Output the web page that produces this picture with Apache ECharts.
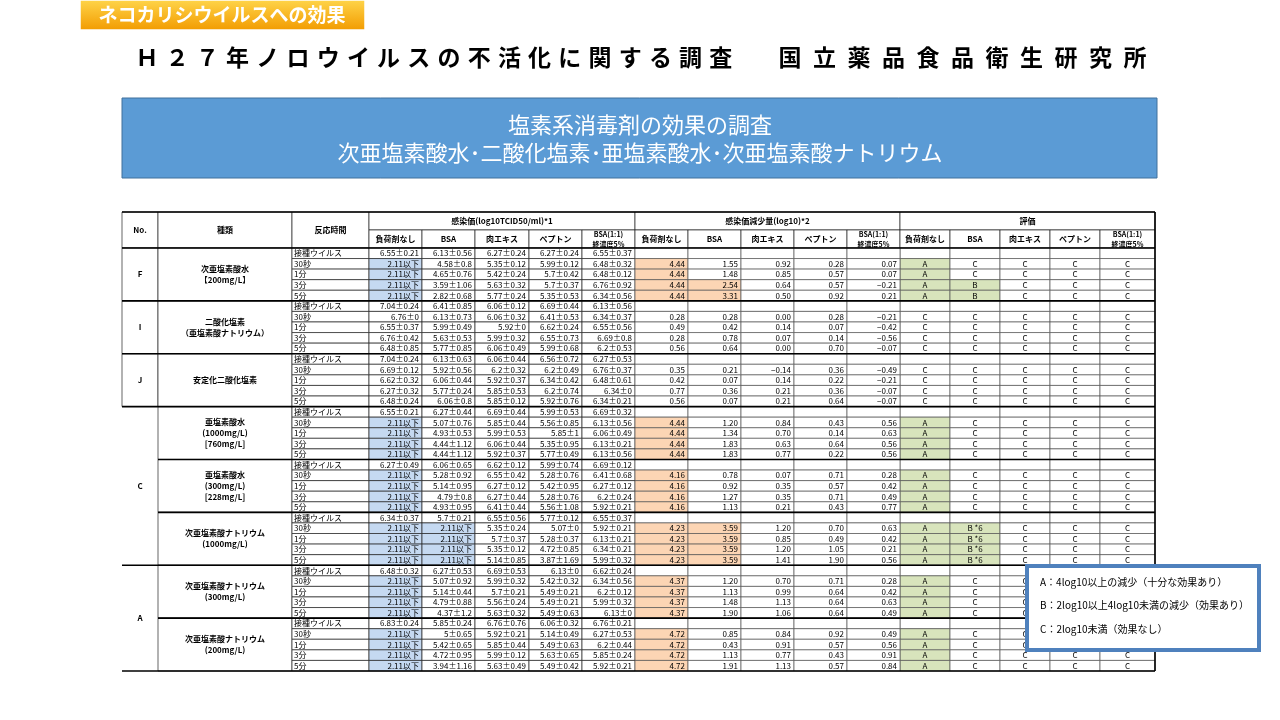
<!DOCTYPE html>
<html>
<head>
<meta charset="utf-8">
<script src="https://cdn.jsdelivr.net/npm/echarts@6/dist/echarts.min.js"></script>
<style>
  html, body { margin: 0; padding: 0; background: #fff; }
  #chart { width: 1280px; height: 720px; }
</style>
</head>
<body>
<div id="chart"></div>
<script>
// ---- data ----
var noLabels = [['F', 0, 0], ['I', 1, 1], ['J', 2, 2], ['C', 3, 5], ['A', 6, 7]];
var agentNames = [
  '次亜塩素酸水\n【200mg/L】',
  '二酸化塩素\n（亜塩素酸ナトリウム）',
  '安定化二酸化塩素',
  '亜塩素酸水\n(1000mg/L)\n[760mg/L]',
  '亜塩素酸水\n(300mg/L)\n[228mg/L]',
  '次亜塩素酸ナトリウム\n(1000mg/L)',
  '次亜塩素酸ナトリウム\n(300mg/L)',
  '次亜塩素酸ナトリウム\n(200mg/L)'
];
var times = ['接種ウイルス', '30秒', '1分', '3分', '5分'];
var loadTypes = ['負荷剤なし', 'BSA', '肉エキス', 'ペプトン', 'BSA(1:1)\n終濃度5%'];
var groupHeaders = ['感染価(log10TCID50/ml)*1', '感染価減少量(log10)*2', '評価'];

var titer = [
  [['6.55±0.21','6.13±0.56','6.27±0.24','6.27±0.24','6.55±0.37'],['2.11以下','4.58±0.8','5.35±0.12','5.99±0.12','6.48±0.32'],['2.11以下','4.65±0.76','5.42±0.24','5.7±0.42','6.48±0.12'],['2.11以下','3.59±1.06','5.63±0.32','5.7±0.37','6.76±0.92'],['2.11以下','2.82±0.68','5.77±0.24','5.35±0.53','6.34±0.56']],
  [['7.04±0.24','6.41±0.85','6.06±0.12','6.69±0.44','6.13±0.56'],['6.76±0','6.13±0.73','6.06±0.32','6.41±0.53','6.34±0.37'],['6.55±0.37','5.99±0.49','5.92±0','6.62±0.24','6.55±0.56'],['6.76±0.42','5.63±0.53','5.99±0.32','6.55±0.73','6.69±0.8'],['6.48±0.85','5.77±0.85','6.06±0.49','5.99±0.68','6.2±0.53']],
  [['7.04±0.24','6.13±0.63','6.06±0.44','6.56±0.72','6.27±0.53'],['6.69±0.12','5.92±0.56','6.2±0.32','6.2±0.49','6.76±0.37'],['6.62±0.32','6.06±0.44','5.92±0.37','6.34±0.42','6.48±0.61'],['6.27±0.32','5.77±0.24','5.85±0.53','6.2±0.74','6.34±0'],['6.48±0.24','6.06±0.8','5.85±0.12','5.92±0.76','6.34±0.21']],
  [['6.55±0.21','6.27±0.44','6.69±0.44','5.99±0.53','6.69±0.32'],['2.11以下','5.07±0.76','5.85±0.44','5.56±0.85','6.13±0.56'],['2.11以下','4.93±0.53','5.99±0.53','5.85±1','6.06±0.49'],['2.11以下','4.44±1.12','6.06±0.44','5.35±0.95','6.13±0.21'],['2.11以下','4.44±1.12','5.92±0.37','5.77±0.49','6.13±0.56']],
  [['6.27±0.49','6.06±0.65','6.62±0.12','5.99±0.74','6.69±0.12'],['2.11以下','5.28±0.92','6.55±0.42','5.28±0.76','6.41±0.68'],['2.11以下','5.14±0.95','6.27±0.12','5.42±0.95','6.27±0.12'],['2.11以下','4.79±0.8','6.27±0.44','5.28±0.76','6.2±0.24'],['2.11以下','4.93±0.95','6.41±0.44','5.56±1.08','5.92±0.21']],
  [['6.34±0.37','5.7±0.21','6.55±0.56','5.77±0.12','6.55±0.37'],['2.11以下','2.11以下','5.35±0.24','5.07±0','5.92±0.21'],['2.11以下','2.11以下','5.7±0.37','5.28±0.37','6.13±0.21'],['2.11以下','2.11以下','5.35±0.12','4.72±0.85','6.34±0.21'],['2.11以下','2.11以下','5.14±0.85','3.87±1.69','5.99±0.32']],
  [['6.48±0.32','6.27±0.53','6.69±0.53','6.13±0','6.62±0.24'],['2.11以下','5.07±0.92','5.99±0.32','5.42±0.32','6.34±0.56'],['2.11以下','5.14±0.44','5.7±0.21','5.49±0.21','6.2±0.12'],['2.11以下','4.79±0.88','5.56±0.24','5.49±0.21','5.99±0.32'],['2.11以下','4.37±1.2','5.63±0.32','5.49±0.63','6.13±0']],
  [['6.83±0.24','5.85±0.24','6.76±0.76','6.06±0.32','6.76±0.21'],['2.11以下','5±0.65','5.92±0.21','5.14±0.49','6.27±0.53'],['2.11以下','5.42±0.65','5.85±0.44','5.49±0.63','6.2±0.44'],['2.11以下','4.72±0.95','5.99±0.12','5.63±0.65','5.85±0.24'],['2.11以下','3.94±1.16','5.63±0.49','5.49±0.42','5.92±0.21']]
];

var reduction = [
  [[4.44,1.55,0.92,0.28,0.07],[4.44,1.48,0.85,0.57,0.07],[4.44,2.54,0.64,0.57,-0.21],[4.44,3.31,0.50,0.92,0.21]],
  [[0.28,0.28,0.00,0.28,-0.21],[0.49,0.42,0.14,0.07,-0.42],[0.28,0.78,0.07,0.14,-0.56],[0.56,0.64,0.00,0.70,-0.07]],
  [[0.35,0.21,-0.14,0.36,-0.49],[0.42,0.07,0.14,0.22,-0.21],[0.77,0.36,0.21,0.36,-0.07],[0.56,0.07,0.21,0.64,-0.07]],
  [[4.44,1.20,0.84,0.43,0.56],[4.44,1.34,0.70,0.14,0.63],[4.44,1.83,0.63,0.64,0.56],[4.44,1.83,0.77,0.22,0.56]],
  [[4.16,0.78,0.07,0.71,0.28],[4.16,0.92,0.35,0.57,0.42],[4.16,1.27,0.35,0.71,0.49],[4.16,1.13,0.21,0.43,0.77]],
  [[4.23,3.59,1.20,0.70,0.63],[4.23,3.59,0.85,0.49,0.42],[4.23,3.59,1.20,1.05,0.21],[4.23,3.59,1.41,1.90,0.56]],
  [[4.37,1.20,0.70,0.71,0.28],[4.37,1.13,0.99,0.64,0.42],[4.37,1.48,1.13,0.64,0.63],[4.37,1.90,1.06,0.64,0.49]],
  [[4.72,0.85,0.84,0.92,0.49],[4.72,0.43,0.91,0.57,0.56],[4.72,1.13,0.77,0.43,0.91],[4.72,1.91,1.13,0.57,0.84]]
];

var evaluation = [
  [['A','C','C','C','C'],['A','C','C','C','C'],['A','B','C','C','C'],['A','B','C','C','C']],
  [['C','C','C','C','C'],['C','C','C','C','C'],['C','C','C','C','C'],['C','C','C','C','C']],
  [['C','C','C','C','C'],['C','C','C','C','C'],['C','C','C','C','C'],['C','C','C','C','C']],
  [['A','C','C','C','C'],['A','C','C','C','C'],['A','C','C','C','C'],['A','C','C','C','C']],
  [['A','C','C','C','C'],['A','C','C','C','C'],['A','C','C','C','C'],['A','C','C','C','C']],
  [['A','B *6','C','C','C'],['A','B *6','C','C','C'],['A','B *6','C','C','C'],['A','B *6','C','C','C']],
  [['A','C','C','C','C'],['A','C','C','C','C'],['A','C','C','C','C'],['A','C','C','C','C']],
  [['A','C','C','C','C'],['A','C','C','C','C'],['A','C','C','C','C'],['A','C','C','C','C']]
];

var legendLines = [
  'A：4log10以上の減少（十分な効果あり）',
  'B：2log10以上4log10未満の減少（効果あり）',
  'C：2log10未満（効果なし）'
];

// ---- layout ----
var colEdges = [0, 36, 170, 247, 300, 353, 407, 460, 513, 566, 619, 672, 725, 778, 828, 878, 928, 978, 1033];
var HEAD = 3.4; // header height in row units
var FONT = '"Noto Sans CJK JP", "Noto Sans", sans-serif';
var BLUE = '#c5d9f1', ORANGE = '#fcd5b4', GREEN = '#d8e4bc';

// build cells
var cells = [];
function cell(c0, c1, r0, r1, text, fill, align, stroke, size, bold) {
  cells.push({ c0: c0, c1: c1, r0: r0, r1: r1, text: text, fill: fill || '#fff', align: align || 'center',
    stroke: stroke === undefined ? true : stroke, size: size || 8, bold: !!bold });
}
cell(0, 1, -HEAD, 0, 'No.', '#fff', 'center', true, 8, true);
cell(1, 2, -HEAD, 0, '種類', '#fff', 'center', true, 8, true);
cell(2, 3, -HEAD, 0, '反応時間', '#fff', 'center', true, 8, true);
groupHeaders.forEach(function (h, g) {
  cell(3 + g * 5, 8 + g * 5, -HEAD, -HEAD / 2, h, '#fff', 'center', true, 8, true);
  loadTypes.forEach(function (t, k) {
    cell(3 + g * 5 + k, 4 + g * 5 + k, -HEAD / 2, 0, t, '#fff', 'center', true, k === 4 ? 7 : 8, true);
  });
});
noLabels.forEach(function (n, i) {
  cell(0, 1, n[1] * 5, n[2] * 5 + 5, n[0], '#fff', 'center', i < 3, 8, true);
});
agentNames.forEach(function (name, g) {
  cell(1, 2, g * 5, g * 5 + 5, name, '#fff', 'center', true, 8, true);
  times.forEach(function (t, r) {
    var row = g * 5 + r;
    cell(2, 3, row, row + 1, t, '#fff', 'left');
    titer[g][r].forEach(function (v, k) {
      cell(3 + k, 4 + k, row, row + 1, v, v.indexOf('以下') >= 0 ? BLUE : '#fff', 'right');
    });
    for (var k = 0; k < 5; k++) {
      if (r === 0) {
        cell(8 + k, 9 + k, row, row + 1, '', '#fff');
        cell(13 + k, 14 + k, row, row + 1, '', '#fff');
      } else {
        var d = reduction[g][r - 1][k];
        var txt = (d < 0 ? '−' + (-d).toFixed(2) : d.toFixed(2));
        cell(8 + k, 9 + k, row, row + 1, txt, d >= 2 ? ORANGE : '#fff', 'right');
        var e = evaluation[g][r - 1][k];
        cell(13 + k, 14 + k, row, row + 1, e, e.charAt(0) !== 'C' ? GREEN : '#fff', 'center');
      }
    }
  });
});

var chart = echarts.init(document.getElementById('chart'));

var titleA = 'Ｈ２７年ノロウイルスの不活化に関する調査';
var titleB = '国立薬品食品衛生研究所';
var graphics = [
  { type: 'rect', shape: { x: 80, y: 0, width: 285, height: 30 },
    style: { fill: new echarts.graphic.LinearGradient(0, 0, 0, 1, [{ offset: 0, color: '#ffd54a' }, { offset: 1, color: '#f29b00' }]), stroke: '#fff', lineWidth: 1 } },
  { type: 'text', x: 222, y: 15, style: { text: 'ネコカリシウイルスへの効果', fill: '#fff', font: 'bold 19px ' + FONT, align: 'center', verticalAlign: 'middle' } },
  { type: 'rect', shape: { x: 122, y: 98, width: 1035, height: 80 }, style: { fill: '#5b9bd5', stroke: '#41719c', lineWidth: 1 } },
  { type: 'text', x: 640, y: 125, style: { text: '塩素系消毒剤の効果の調査', fill: '#fff', font: '22px ' + FONT, align: 'center', verticalAlign: 'middle' } },
  { type: 'text', x: 640, y: 153, style: { text: '次亜塩素酸水･二酸化塩素･亜塩素酸水･次亜塩素酸ナトリウム', fill: '#fff', font: '22px ' + FONT, align: 'center', verticalAlign: 'middle' } },
  { type: 'rect', z: 100, shape: { x: 1027, y: 566, width: 232, height: 84 }, style: { fill: '#fff', stroke: '#4f81bd', lineWidth: 4 } }
];
titleA.split('').forEach(function (ch, i) {
  graphics.push({ type: 'text', x: 147 + i * 30.2, y: 57, style: { text: ch, fill: '#000', font: 'bold 23px ' + FONT, align: 'center', verticalAlign: 'middle' } });
});
titleB.split('').forEach(function (ch, i) {
  graphics.push({ type: 'text', x: 790 + i * 34.5, y: 57, style: { text: ch, fill: '#000', font: 'bold 23px ' + FONT, align: 'center', verticalAlign: 'middle' } });
});
legendLines.forEach(function (t, i) {
  graphics.push({ type: 'text', z: 101, x: 1040, y: [582, 605, 629][i], style: { text: t, fill: '#000', font: '10px ' + FONT, verticalAlign: 'middle' } });
});

var option = {
  animation: false,
  grid: { left: 122, top: 212, width: 1033, height: 459 },
  xAxis: { type: 'value', min: 0, max: 1033, show: false },
  yAxis: { type: 'value', min: -HEAD, max: 40, inverse: true, show: false },
  graphic: graphics,
  series: [{
    type: 'custom',
    data: cells.map(function (c, i) { return [i]; }),
    renderItem: function (params, api) {
      var c = cells[params.dataIndex];
      var p0 = api.coord([colEdges[c.c0], c.r0]);
      var p1 = api.coord([colEdges[c.c1], c.r1]);
      var w = p1[0] - p0[0], h = p1[1] - p0[1];
      var tx = c.align === 'left' ? p0[0] + 2 : c.align === 'right' ? p1[0] - 3 : p0[0] + w / 2;
      return {
        type: 'group',
        children: [
          { type: 'rect', shape: { x: p0[0], y: p0[1], width: w, height: h },
            style: { fill: c.fill, stroke: c.stroke ? (c.c0 >= 8 && c.r0 >= 0 ? '#555' : '#222') : null, lineWidth: 0.7 } },
          { type: 'text', x: tx, y: p0[1] + h / 2,
            style: { text: c.text, fill: '#000', align: c.align, verticalAlign: 'middle',
              font: (c.bold ? 'bold ' : '') + c.size + 'px ' + FONT, lineHeight: c.size + 3 } }
        ]
      };
    }
  }]
};
chart.setOption(option);

// thick group separators
var seps = [];
[0, 5, 10, 15, 20, 25, 30, 35, 40].forEach(function (r) {
  var a = chart.convertToPixel({ gridIndex: 0 }, [colEdges[r === 20 || r === 25 || r === 35 ? 1 : 0], r]);
  var b = chart.convertToPixel({ gridIndex: 0 }, [colEdges[colEdges.length - 1], r]);
  seps.push({ type: 'line', z: 50, shape: { x1: a[0], y1: a[1], x2: b[0], y2: b[1] }, style: { stroke: '#000', lineWidth: 1.6 } });
});
var t0 = chart.convertToPixel({ gridIndex: 0 }, [0, -HEAD]);
var t1 = chart.convertToPixel({ gridIndex: 0 }, [1033, 40]);
seps.push({ type: 'line', z: 50, shape: { x1: t0[0], y1: t0[1], x2: t1[0], y2: t0[1] }, style: { stroke: '#000', lineWidth: 1.6 } });
seps.push({ type: 'line', z: 50, shape: { x1: t1[0], y1: t0[1], x2: t1[0], y2: t1[1] }, style: { stroke: '#000', lineWidth: 1.6 } });
chart.setOption({ graphic: graphics.concat(seps) });
</script>
</body>
</html>
